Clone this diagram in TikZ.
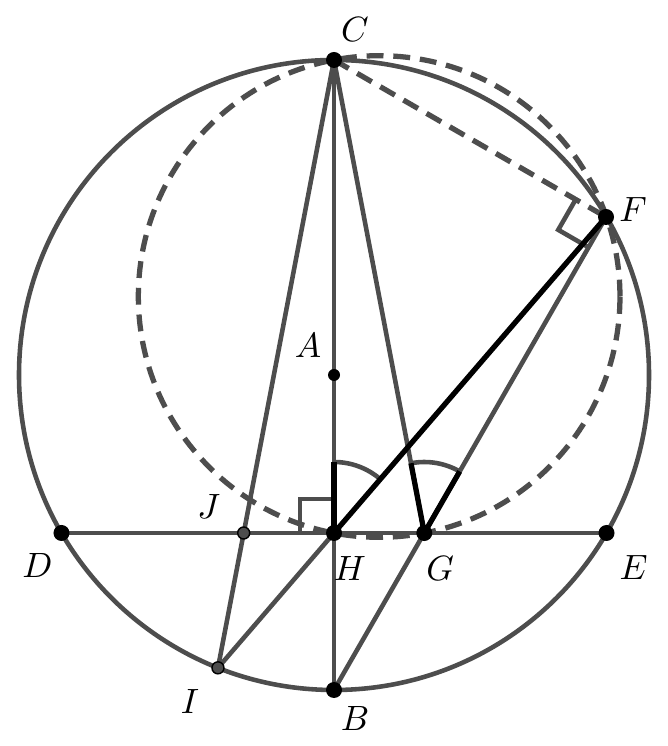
\documentclass[tikz,border=0pt]{standalone}
\usepackage{tikz}
\usetikzlibrary{calc,angles}
\definecolor{linegray}{RGB}{77,77,77}

\begin{document}
\begin{tikzpicture}
        [   gray line/.style =
            {   draw = linegray
            ,   line width = 1.3pt
            }
        ,   black line/.style =
            {   draw = black
            ,   line width = 1.5pt
            }
        ,   dash line/.style =
            {   draw = linegray
            ,   line width = 1.5pt
            ,   dash pattern = on 4.8pt off 2.8pt
            }
        ,   big dot/.style =
            {   fill = black
            }
        ,   small dot/.style =
            {   fill = linegray
            ,   draw = black
            ,   line width = 0.4pt
            }
        ,   arc mark/.style =
            {   draw = linegray
            ,   line width = 1.3pt
            ,   angle radius = 0.71cm
            }
        ]
        \useasboundingbox (-3.34,-3.71) rectangle (3.33,3.75);
        % points
        \coordinate (A) at (0,0);
        \coordinate (C) at (0,3.15);
        \coordinate (B) at (0,-3.15);
        \coordinate (H) at (0,-1.58);
        \coordinate (D) at (-2.725,-1.58);
        \coordinate (E) at (2.725,-1.58);
        \coordinate (F) at (2.72,1.58);
        \coordinate (G) at (intersection of B--F and D--E);
        \coordinate (J) at ($(H)!-1!(G)$);
        \coordinate (I) at ($(C)!1.2851!(J)$);
        \coordinate (M) at ($(C)!0.5!(G)$);
        % circles
        \draw[gray line] (A) circle (3.15);
        \draw[dash line] (M) circle (2.408);
        \draw[dash line] (C) -- (F);
        % segments
        \draw[gray line] (D) -- (E);
        \draw[gray line] (C) -- (B);
        \draw[gray line] (C) -- (I);
        \draw[gray line] (C) -- (G);
        \draw[gray line] (B) -- (F);
        \draw[gray line] (H) -- (I);
        % right angles
        \draw[gray line] ($(H)+(-0.34,0)$) -- ++(0,0.34) -- ($(H)+(0,0.34)$);
        \coordinate (Fc) at ($(F)!0.35cm!(C)$);
        \coordinate (Fg) at ($(F)!0.35cm!(G)$);
        \draw[gray line] (Fc) -- ($(Fc)+(Fg)-(F)$) -- (Fg);
        % equal angles
        \pic[arc mark] {angle = F--H--C};
        \pic[arc mark] {angle = F--G--C};
        \draw[black line] (H) -- (F);
        \draw[black line] (H) -- ($(H)!0.71cm!(C)$);
        \draw[black line] ($(G)!0.71cm!(C)$) -- (G) -- ($(G)!0.71cm!(F)$);
        % dots
        \foreach \p in {C,F,H,G,D,E,B}
            \fill[big dot] (\p) circle (0.08);
        \fill[big dot] (A) circle (0.06);
        \foreach \p in {J,I}
            \filldraw[small dot] (\p) circle (0.06);
        % labels
        \node (labC) at ($(C)+(0.21,0.30)$) {$C$};
        \node (labF) at ($(F)+(0.27,0.07)$) {$F$};
        \node (labA) at ($(A)+(-0.26,0.29)$) {$A$};
        \node (labJ) at ($(J)+(-0.35,0.26)$) {$J$};
        \node (labH) at ($(H)+(0.16,-0.35)$) {$H$};
        \node (labG) at ($(G)+(0.16,-0.35)$) {$G$};
        \node (labD) at ($(D)+(-0.24,-0.32)$) {$D$};
        \node (labE) at ($(E)+(0.27,-0.34)$) {$E$};
        \node (labI) at ($(I)+(-0.28,-0.34)$) {$I$};
        \node (labB) at ($(B)+(0.21,-0.28)$) {$B$};
    \end{tikzpicture}
\end{document}
